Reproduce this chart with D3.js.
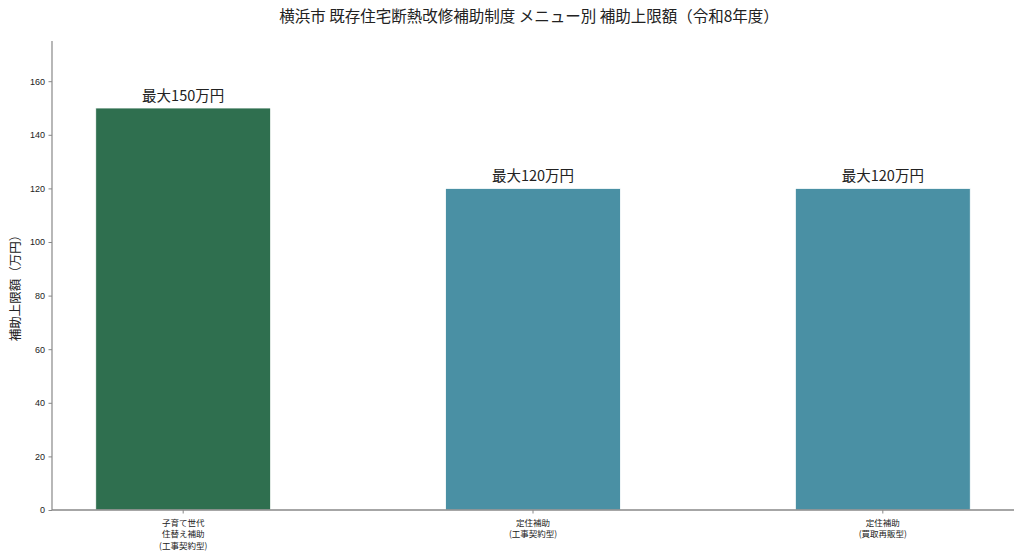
<!DOCTYPE html>
<html>
  <head>
    <meta charset="UTF-8" />
    <script src="https://d3js.org/d3.v7.min.js"></script>
    <style>
      body { margin: 0; background: #fff; }
      text { font-family: "Noto Sans CJK JP", "Noto Sans", sans-serif; fill: #222; }
    </style>
  </head>
  <body>
    <svg width="1024" height="559"></svg>

    <script>
      const categories = [
        ["子育て世代", "住替え補助", "(工事契約型)"],
        ["定住補助", "(工事契約型)"],
        ["定住補助", "(買取再販型)"]
      ];
      const values = [150, 120, 120];
      const valueLabels = ["最大150万円", "最大120万円", "最大120万円"];
      const barColors = ["#2f6f4f", "#4a90a4", "#4a90a4"];
      const yTicks = [0, 20, 40, 60, 80, 100, 120, 140, 160];

      const svg = d3.select("svg");
      const mLeft = 52, mRight = 1014, mTop = 41, mBottom = 510;

      const x = d3.scaleBand()
        .domain(d3.range(values.length))
        .range([mLeft, mRight])
        .paddingInner(0.5)
        .paddingOuter(0.125);
      const y = d3.scaleLinear().domain([0, 175]).range([mBottom, mTop]);

      // bars
      svg.selectAll("rect.bar")
        .data(values)
        .join("rect")
        .attr("class", "bar")
        .attr("x", (d, i) => x(i))
        .attr("width", x.bandwidth())
        .attr("y", d => y(d))
        .attr("height", d => y(0) - y(d))
        .attr("fill", (d, i) => barColors[i])
        .attr("stroke", "#fff")
        .attr("stroke-width", 0.8);

      // value labels
      svg.selectAll("text.val")
        .data(values)
        .join("text")
        .attr("class", "val")
        .attr("x", (d, i) => x(i) + x.bandwidth() / 2)
        .attr("y", d => y(d) - 7)
        .attr("text-anchor", "middle")
        .style("font-size", "14.5px")
        .text((d, i) => valueLabels[i]);

      // y axis
      const yAxis = svg.append("g")
        .attr("transform", `translate(${mLeft},0)`)
        .call(d3.axisLeft(y).tickValues(yTicks).tickSize(3.5).tickPadding(3.5));
      yAxis.select(".domain").attr("stroke", "#888").attr("stroke-width", 1.2)
        .attr("d", `M0,${mTop}V${mBottom}`);
      yAxis.selectAll(".tick line").attr("stroke", "#888");
      yAxis.selectAll(".tick text").style("font-size", "9px").attr("fill", "#333")
        .style("font-family", "'Liberation Sans', sans-serif");

      // x axis
      const xAxis = svg.append("g")
        .attr("transform", `translate(0,${mBottom})`)
        .call(d3.axisBottom(x).tickSize(3.5).tickFormat(""));
      xAxis.select(".domain").attr("stroke", "#888").attr("stroke-width", 1.5)
        .attr("d", `M${mLeft},0H${mRight}`);
      xAxis.selectAll(".tick line").attr("stroke", "#888");
      xAxis.selectAll(".tick").each(function (d, i) {
        const t = d3.select(this).append("text")
          .attr("text-anchor", "middle")
          .style("font-size", "8.5px")
          .attr("fill", "#222");
        categories[i].forEach((line, j) => {
          t.append("tspan").attr("x", 0).attr("y", 16 + j * 11.3).text(line);
        });
      });

      // y axis title
      svg.append("text")
        .attr("transform", `translate(20,285) rotate(-90)`)
        .attr("text-anchor", "middle")
        .style("font-size", "12.5px")
        .text("補助上限額（万円）");

      // title
      svg.append("text")
        .attr("x", 529)
        .attr("y", 22)
        .attr("text-anchor", "middle")
        .style("font-size", "15.5px")
        .text("横浜市 既存住宅断熱改修補助制度 メニュー別 補助上限額（令和8年度）");
    </script>
  </body>
</html>
